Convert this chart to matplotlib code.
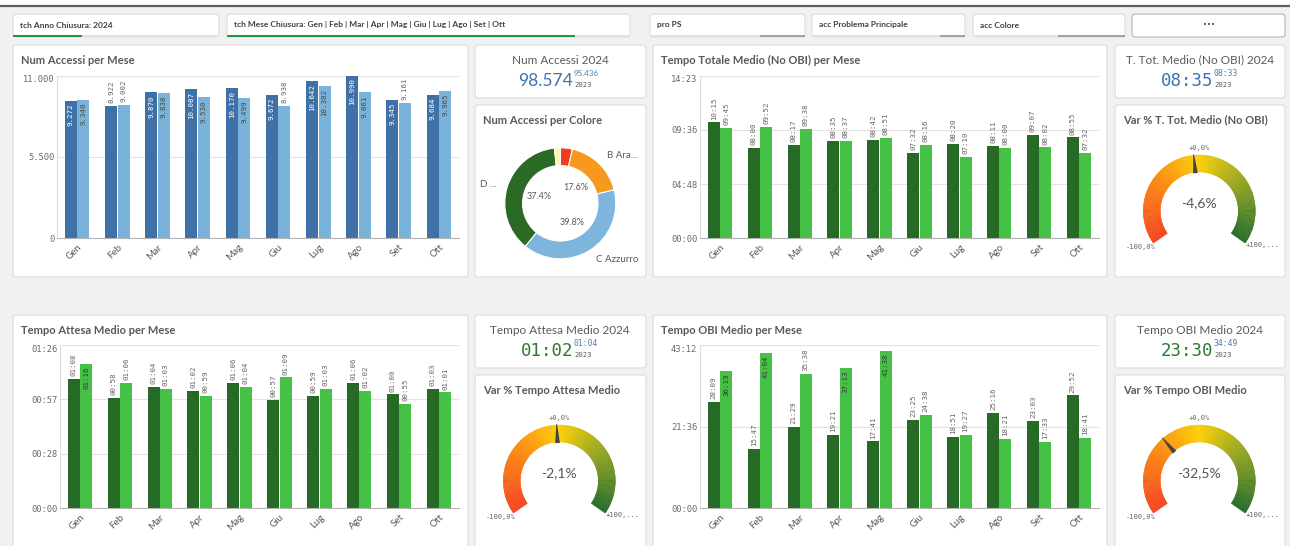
import numpy as np
import matplotlib
matplotlib.use("Agg")
import matplotlib.pyplot as plt
from matplotlib.patches import FancyBboxPatch, Wedge, Polygon, Rectangle
from matplotlib.colors import LinearSegmentedColormap

W, H = 1290, 546

months = ["Gen", "Feb", "Mar", "Apr", "Mag", "Giu", "Lug", "Ago", "Set", "Ott"]

accessi_2024 = [9272, 8922, 9870, 10087, 10170, 9672, 10642, 10990, 9345, 9684]
accessi_2023 = [9340, 9002, 9838, 9530, 9499, 8938, 10302, 9861, 9161, 9965]

tempo_tot_2024 = ["10:15", "08:00", "08:17", "08:35", "08:42", "07:32", "08:20", "08:11", "09:07", "08:55"]
tempo_tot_2023 = ["09:45", "09:52", "09:38", "08:37", "08:51", "08:16", "07:10", "08:00", "08:02", "07:32"]

attesa_2024 = ["01:08", "00:58", "01:04", "01:02", "01:06", "00:57", "00:59", "01:06", "01:00", "01:03"]
attesa_2023 = ["01:16", "01:06", "01:03", "00:59", "01:04", "01:09", "01:03", "01:02", "00:55", "01:01"]

obi_2024 = ["28:09", "15:47", "21:29", "19:21", "17:41", "23:25", "18:51", "25:16", "23:03", "29:52"]
obi_2023 = ["36:19", "41:04", "35:38", "37:13", "41:38", "24:38", "19:27", "18:21", "17:33", "18:41"]

colori_labels = ["", "B Ara...", "C Azzurro", "D ...", ""]
colori_pct = [3.5, 17.6, 39.8, 37.4, 1.7]
colori_col = ["#ef3e1d", "#f7991e", "#7db5dc", "#2a6a24", "#faf4b0"]

var_tot = -4.6
var_attesa = -2.1
var_obi = -32.5

filters = ["tch Anno Chiusura: 2024",
           "tch Mese Chiusura: Gen | Feb | Mar | Apr | Mag | Giu | Lug | Ago | Set | Ott",
           "pro PS", "acc Problema Principale", "acc Colore", "\u2022\u2022\u2022"]

BLUE_D, BLUE_L = "#3f71a6", "#7ab3d9"
GREEN_D, GREEN_L = "#276a25", "#45c246"
GREY_T = "#595959"


def secs(s):
    m, s = s.split(":")
    return int(m) * 60 + int(s)


def px_rect(x0, y0, x1, y1):
    return [x0 / W, 1 - y1 / H, (x1 - x0) / W, (y1 - y0) / H]


fig = plt.figure(figsize=(W / 100, H / 100), dpi=100)
fig.patch.set_facecolor("#f1f1f1")

bg = fig.add_axes([0, 0, 1, 1], zorder=0)
bg.set_xlim(0, W)
bg.set_ylim(H, 0)
bg.axis("off")

# top strip
bg.add_patch(Rectangle((0, 0), W, 6, fc="white", ec="none"))
bg.plot([0, W], [6, 6], color="#5f5f5f", lw=1.6)


def panel(x0, y0, x1, y1, ec="#dcdcdc"):
    bg.add_patch(FancyBboxPatch((x0, y0), x1 - x0, y1 - y0,
                                boxstyle="round,pad=0,rounding_size=3",
                                fc="white", ec=ec, lw=0.8))


# filter bar
fboxes = [(13, 219), (227, 630), (650, 805), (812, 965), (973, 1125), (1132, 1285)]
fmarks = [(13, 82, "#1a9a45"), (227, 575, "#1a9a45"), (760, 805, "#a3a3a3"),
          (940, 965, "#a3a3a3"), (1058, 1125, "#a3a3a3"), None]
for (x0, x1), txt, mk in zip(fboxes, filters, fmarks):
    if mk is None:
        panel(x0, 14, x1, 37, ec="#b5b5b5")
        bg.text((x0 + x1) / 2, 25, txt, ha="center", va="center", fontsize=5,
                color="#404040")
        continue
    panel(x0, 14, x1, 37)
    bg.add_patch(Rectangle((x0, 34.5), x1 - x0, 2.5, fc="#e3e3e3", ec="none"))
    bg.add_patch(Rectangle((mk[0], 34.5), mk[1] - mk[0], 2.5, fc=mk[2], ec="none"))
    bg.text(x0 + 7, 25, txt, ha="left", va="center", fontsize=6,
            fontweight="bold", family="Lato", color="#404040")

# panels
for y0, y1 in [(45, 277), (315, 556)]:
    panel(13, y0, 468, y1)
    panel(653, y0, 1107, y1)
for y0 in (45, 315):
    panel(475, y0, 646, y0 + 53)
    panel(1115, y0, 1285, y0 + 53)
panel(475, 105, 646, 277)
panel(1115, 105, 1285, 277)
panel(475, 375, 646, 556)
panel(1115, 375, 1285, 556)


def title(x, y, s):
    bg.text(x, y, s, ha="left", va="center", fontsize=8, fontweight="bold",
            family="Lato", color=GREY_T)


title(21, 60, "Num Accessi per Mese")
title(661, 60, "Tempo Totale Medio (No OBI) per Mese")
title(21, 330, "Tempo Attesa Medio per Mese")
title(661, 330, "Tempo OBI Medio per Mese")
title(483, 120, "Num Accessi per Colore")
title(1123, 120, "Var % T. Tot. Medio (No OBI)")
title(483, 390, "Var % Tempo Attesa Medio")
title(1123, 390, "Var % Tempo OBI Medio")


def kpi(cx, y0, ttl, value, vcolor, prev, value_font):
    bg.text(cx, y0 + 15, ttl, ha="center", va="center", fontsize=8.5,
            family="Lato", color=GREY_T)
    bg.text(cx + 13, y0 + 36, value, ha="right", va="center", fontsize=12.5,
            family=value_font, color=vcolor)
    bg.text(cx + 14, y0 + 29, prev, ha="left", va="center", fontsize=5.8,
            family=value_font, color="#4a7cb5")
    bg.text(cx + 14, y0 + 40, "2023", ha="left", va="center", fontsize=5.2,
            family="DejaVu Sans Mono", color=GREY_T)


kpi(560, 45, "Num Accessi 2024", "98.574", "#3f72b0", "95.436", "Lato")
kpi(1200, 45, "T. Tot. Medio (No OBI) 2024", "08:35", "#3f72b0", "08:33", "DejaVu Sans Mono")
kpi(560, 315, "Tempo Attesa Medio 2024", "01:02", "#2b7a2f", "01:04", "DejaVu Sans Mono")
kpi(1200, 315, "Tempo OBI Medio 2024", "23:30", "#2b7a2f", "34:49", "DejaVu Sans Mono")


def bar_chart(rect, cur, prev, cur_lbl, prev_lbl, ymax, tick_lbls, cols, in_cols):
    ax = fig.add_axes(px_rect(*rect), zorder=2)
    ax.set_facecolor("none")
    x = np.arange(len(months))
    w = 0.3
    b1 = ax.bar(x - 0.155, cur, w, color=cols[0], zorder=3)
    b2 = ax.bar(x + 0.155, prev, w, color=cols[1], zorder=3)
    for bars, vals, lbls, incol in ((b1, cur, cur_lbl, in_cols[0]),
                                    (b2, prev, prev_lbl, in_cols[1])):
        for r, v, lb in zip(bars, vals, lbls):
            xc = r.get_x() + r.get_width() / 2
            inside = v > 0.835 * ymax
            ax.annotate(lb, (xc, v), xytext=(0, -2 if inside else 2),
                        textcoords="offset points", rotation=90, ha="center",
                        va="top" if inside else "bottom", fontsize=5.4,
                        family="DejaVu Sans Mono",
                        color=incol if inside else "#666666", zorder=4)
    ax.set_xlim(-0.5, len(months) - 0.5)
    ax.set_ylim(0, ymax)
    ticks = [ymax * k / (len(tick_lbls) - 1) for k in range(len(tick_lbls))]
    ax.set_yticks(ticks, tick_lbls, family="DejaVu Sans Mono")
    ax.get_yticklabels()[-1].set_va("top")
    ax.set_xticks(x, months, rotation=45, ha="right", rotation_mode="anchor",
                  family="Lato")
    ax.tick_params(axis="y", length=0, labelsize=6.3, labelcolor="#6a6a6a", pad=2)
    ax.tick_params(axis="x", length=0, labelsize=7, labelcolor=GREY_T, pad=3)
    ax.yaxis.grid(True, color="#e2e2e2", lw=0.8)
    ax.set_axisbelow(True)
    for s in ("top", "right"):
        ax.spines[s].set_visible(False)
    ax.spines["left"].set_color("#dedede")
    ax.spines["bottom"].set_color("#b5b5b5")
    return ax


fmt_n = lambda v: f"{v:,}".replace(",", ".")

bar_chart((57, 75.5, 459, 238.3), accessi_2024, accessi_2023,
          [fmt_n(v) for v in accessi_2024], [fmt_n(v) for v in accessi_2023],
          11000, ["0", "5.500", "11.000"], (BLUE_D, BLUE_L), ("white", "#4a4a4a"))
bar_chart((700, 75.5, 1099, 238.3), [secs(s) for s in tempo_tot_2024],
          [secs(s) for s in tempo_tot_2023], tempo_tot_2024, tempo_tot_2023,
          863, ["00:00", "04:48", "09:36", "14:23"], (GREEN_D, GREEN_L), ("white", "#3a3a3a"))
bar_chart((60, 345, 459, 508.3), [secs(s) for s in attesa_2024],
          [secs(s) for s in attesa_2023], attesa_2024, attesa_2023,
          86, ["00:00", "00:28", "00:57", "01:26"], (GREEN_D, GREEN_L), ("white", "#3a3a3a"))
bar_chart((700, 345, 1099, 508.3), [secs(s) for s in obi_2024],
          [secs(s) for s in obi_2023], obi_2024, obi_2023,
          2592, ["00:00", "21:36", "43:12"], (GREEN_D, GREEN_L), ("white", "#3a3a3a"))

# donut
dcx, dcy, dr = 560.3, 203.3, 55.5
axd = fig.add_axes(px_rect(dcx - dr, dcy - dr, dcx + dr, dcy + dr), zorder=2)
axd.pie(colori_pct, labels=colori_labels, colors=colori_col, startangle=90,
        counterclock=False, labeldistance=1.2,
        wedgeprops=dict(width=0.32, edgecolor="white", linewidth=0.8),
        autopct=lambda p: f"{p:.1f}%" if p > 10 else "", pctdistance=0.4,
        textprops=dict(fontsize=7, family="Lato", color=GREY_T))
for t in axd.texts:
    if "%" in t.get_text():
        t.set_fontsize(6.5)
axd.set_xlim(-1, 1)
axd.set_ylim(-1, 1)
axd.set_aspect("equal")
axd.axis("off")

gcmap = LinearSegmentedColormap.from_list(
    "g", [(0, "#f4401b"), (0.28, "#fb850c"), (0.5, "#fcce00"),
          (0.72, "#93a41d"), (1.0, "#1f6a25")])


def gauge(cx, cy, val):
    ext = 80
    ax = fig.add_axes(px_rect(cx - ext, cy - ext, cx + ext, cy + ext), zorder=2)
    ax.set_xlim(-ext, ext)
    ax.set_ylim(-ext, ext)
    ax.set_aspect("equal")
    ax.axis("off")
    ro, rw = 56, 17
    n = 250
    for i in range(n):
        a1 = 215 - 250 * (i + 1) / n
        a2 = 215 - 250 * i / n
        c = gcmap((i + 0.5) / n)
        ax.add_patch(Wedge((0, 0), ro, a1, a2, width=rw, fc=c, ec=c, lw=0.3))
    a = np.deg2rad(90 - val / 100 * 125)
    d = np.array([np.cos(a), np.sin(a)])
    p = np.array([-np.sin(a), np.cos(a)])
    tip = d * (ro + 1)
    base = d * (ro - rw - 1)
    ax.add_patch(Polygon([tip + p * 0.4, tip - p * 0.4, base - p * 2.3, base + p * 2.3],
                         closed=True, fc="#444444", ec="none", zorder=5))
    ax.text(0, 8, f"{val:+.1f}%".replace(".", ",").replace("+", ""), ha="center",
            va="center", fontsize=10, family="Lato", color="#555555")
    ax.text(0, 60, "+0,0%", ha="center", va="bottom", fontsize=5,
            family="DejaVu Sans Mono", color="#666666")
    ax.text(-59, -36, "-100,0%", ha="center", va="center", fontsize=5,
            family="DejaVu Sans Mono", color="#666666")
    ax.text(63, -34, "+100,...", ha="center", va="center", fontsize=5,
            family="DejaVu Sans Mono", color="#666666")


gauge(1199.3, 211, var_tot)
gauge(559.3, 481, var_attesa)
gauge(1199.3, 481, var_obi)

fig.savefig("out.png", dpi=100, facecolor=fig.get_facecolor())
